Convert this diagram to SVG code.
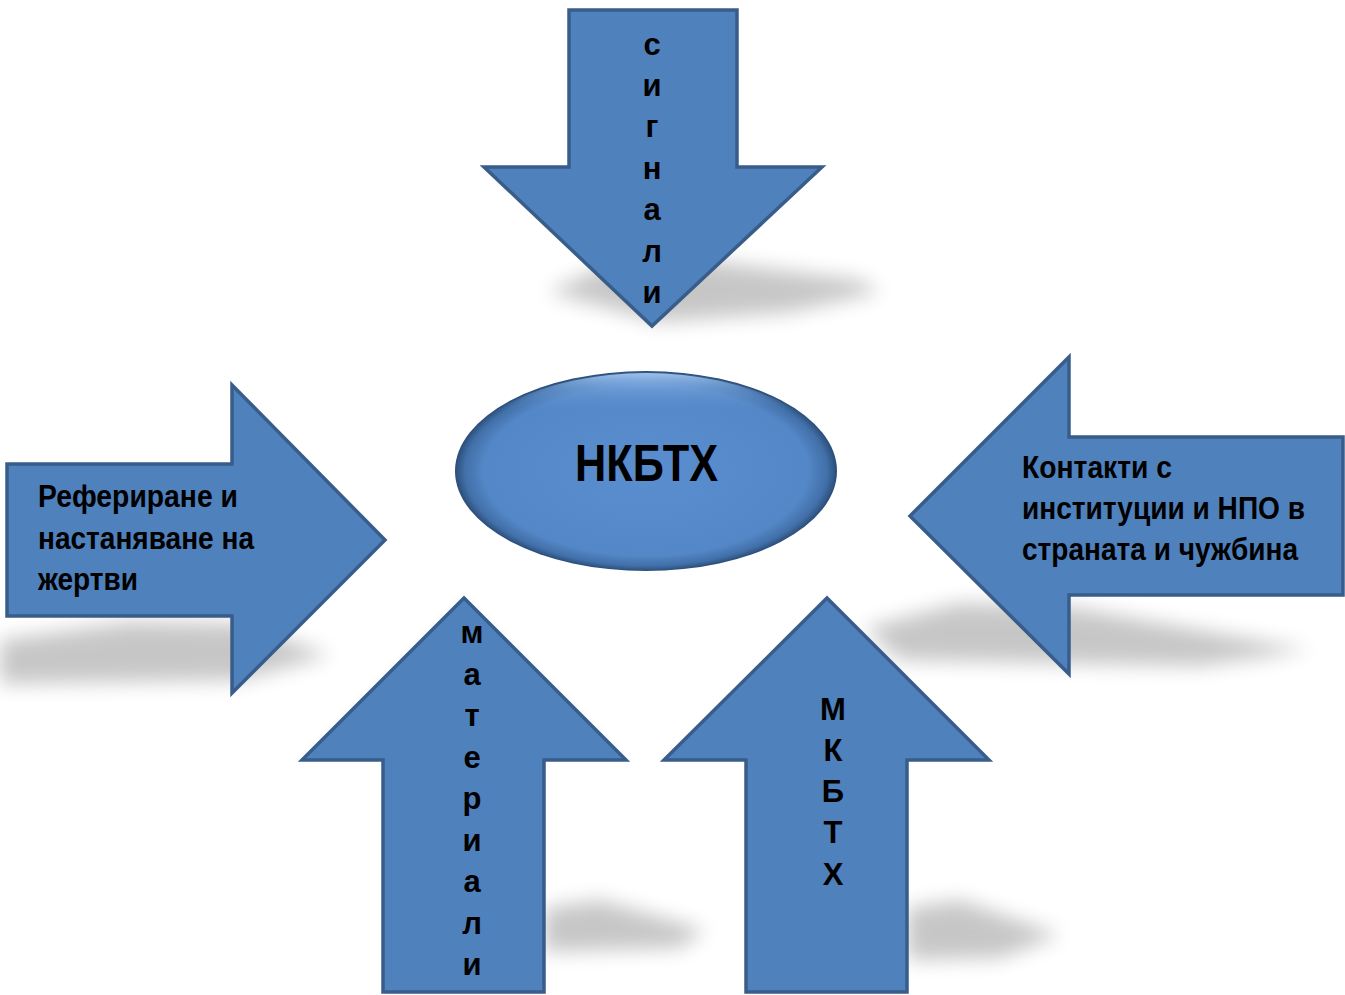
<svg xmlns="http://www.w3.org/2000/svg" width="1345" height="995" viewBox="0 0 1345 995">
<defs>
<filter id="blur" x="-20%" y="-50%" width="140%" height="200%"><feGaussianBlur stdDeviation="10"/></filter>
<radialGradient id="ellG" cx="50%" cy="50%" r="50%">
<stop offset="0" stop-color="#5a8ecf"/>
<stop offset="0.85" stop-color="#5487c7"/>
<stop offset="0.95" stop-color="#416fa8"/>
<stop offset="1" stop-color="#2b4d78"/>
</radialGradient>
<linearGradient id="hiG" x1="0" y1="0" x2="0" y2="1">
<stop offset="0" stop-color="#a9cdf5" stop-opacity="0.9"/>
<stop offset="0.08" stop-color="#8ab6ea" stop-opacity="0.4"/>
<stop offset="0.2" stop-color="#5a8ecf" stop-opacity="0"/>
<stop offset="1" stop-color="#5a8ecf" stop-opacity="0"/>
</linearGradient>
<style>
.arrow{fill:#4f81bd;stroke:#385d8a;stroke-width:3.5;stroke-linejoin:miter}
.shadow{fill:#000;opacity:0.22;filter:url(#blur)}
.lbl{font-family:"Liberation Sans",Arial,sans-serif;font-weight:bold;font-size:31px;fill:#000}
.v{font-family:"Liberation Sans",Arial,sans-serif;font-weight:bold;font-size:31px;fill:#000;text-anchor:middle}
</style>
</defs>
<g id="shadows">
<polygon class="shadow" points="548,292 610,264 700,260 860,280 880,292 790,312 660,322"/>
<polygon class="shadow" points="0,640 130,622 240,624 330,655 240,680 0,684"/>
<polygon class="shadow" points="865,628 960,603 1070,607 1310,650 1200,666 900,660"/>
<polygon class="shadow" points="544,908 600,900 705,930 680,948 544,952"/>
<polygon class="shadow" points="907,908 960,900 1060,935 1000,958 907,960"/>
</g>
<g id="node-signali">
<polygon class="arrow" points="569,10 737,10 737,167 822,167 652,326 484,167 569,167"/>
<text class="v" x="652" y="55">с</text>
<text class="v" x="652" y="96">и</text>
<text class="v" x="652" y="137">г</text>
<text class="v" x="652" y="179">н</text>
<text class="v" x="652" y="220">а</text>
<text class="v" x="652" y="262">л</text>
<text class="v" x="652" y="303">и</text>
</g>
<g id="node-referirane">
<polygon class="arrow" points="7,464 232,464 232,385 385,540 232,693 232,616 7,616"/>
<text class="lbl" x="38" y="507" textLength="200" lengthAdjust="spacingAndGlyphs">Рефериране и</text>
<text class="lbl" x="38" y="549" textLength="216" lengthAdjust="spacingAndGlyphs">настаняване на</text>
<text class="lbl" x="38" y="590" textLength="100" lengthAdjust="spacingAndGlyphs">жертви</text>
</g>
<g id="node-kontakti">
<polygon class="arrow" points="1343,437 1069,437 1069,357 910,516 1069,674 1069,595 1343,595"/>
<text class="lbl" x="1022" y="478" textLength="150" lengthAdjust="spacingAndGlyphs">Контакти с</text>
<text class="lbl" x="1022" y="519" textLength="283" lengthAdjust="spacingAndGlyphs">институции и НПО в</text>
<text class="lbl" x="1022" y="560" textLength="276" lengthAdjust="spacingAndGlyphs">страната и чужбина</text>
</g>
<g id="node-materiali">
<polygon class="arrow" points="464,598 626,760 544,760 544,992 383,992 383,760 302,760"/>
<text class="v" x="472" y="643">м</text>
<text class="v" x="472" y="685">а</text>
<text class="v" x="472" y="726">т</text>
<text class="v" x="472" y="768">е</text>
<text class="v" x="472" y="809">р</text>
<text class="v" x="472" y="851">и</text>
<text class="v" x="472" y="892">а</text>
<text class="v" x="472" y="934">л</text>
<text class="v" x="472" y="975">и</text>
</g>
<g id="node-mkbth">
<polygon class="arrow" points="827,598 989,760 907,760 907,992 746,992 746,760 664,760"/>
<text class="v" x="833" y="720">М</text>
<text class="v" x="833" y="761">К</text>
<text class="v" x="833" y="802">Б</text>
<text class="v" x="833" y="843">Т</text>
<text class="v" x="833" y="885">Х</text>
</g>
<g id="node-nkbth">
<ellipse cx="646" cy="471" rx="191" ry="100" fill="url(#ellG)"/>
<ellipse cx="646" cy="471" rx="189" ry="98" fill="url(#hiG)"/>
<text x="575" y="481" textLength="143" lengthAdjust="spacingAndGlyphs" style="font-family:'Liberation Sans',Arial,sans-serif;font-weight:bold;font-size:52px;fill:#000">НКБТХ</text>
</g>
</svg>
